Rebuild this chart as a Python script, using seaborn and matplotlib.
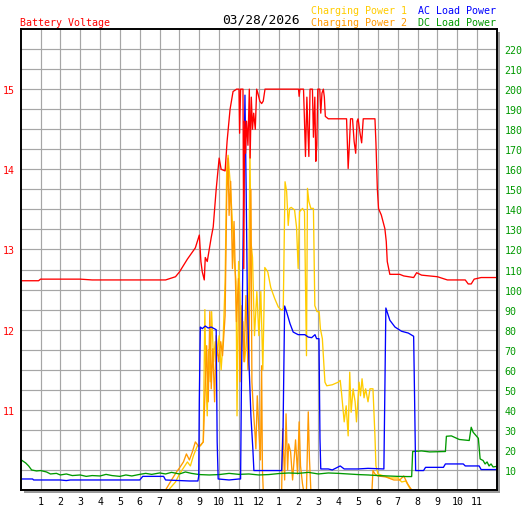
import matplotlib
matplotlib.use("Agg")
import matplotlib.pyplot as plt
from matplotlib.patches import Rectangle
import seaborn as sns
import pandas as pd

# ---------------- data (hours of day) ----------------
hour_labels = ["1", "2", "3", "4", "5", "6", "7", "8", "9", "10", "11", "12",
               "1", "2", "3", "4", "5", "6", "7", "8", "9", "10", "11"]
volt_ticks = [11, 12, 13, 14, 15]
power_ticks = [10, 20, 30, 40, 50, 60, 70, 80, 90, 100, 110, 120, 130, 140, 150,
               160, 170, 180, 190, 200, 210, 220]

volt_t = [0, 0.9, 1.0, 3.0, 3.6, 7.3, 7.55, 7.8, 8.0, 8.2, 8.4, 8.6, 8.8, 9.0, 9.08, 9.15,
          9.25, 9.3, 9.4, 9.5, 9.6, 9.7, 9.85, 10.0, 10.1, 10.3, 10.4, 10.55, 10.7, 10.88,
          11.0, 11.03, 11.08, 11.2, 11.24, 11.28, 11.33, 11.38, 11.45, 11.52, 11.56, 11.62,
          11.68, 11.74, 11.82, 11.89, 11.95, 12.05, 12.14, 12.22, 12.31, 14.0, 14.03, 14.07,
          14.25, 14.3, 14.35, 14.42, 14.47, 14.52, 14.58, 14.7, 14.75, 14.82, 14.87, 14.92,
          14.97, 15.07, 15.12, 15.18, 15.25, 15.3, 15.35, 15.5, 16.42, 16.47, 16.5, 16.56,
          16.62, 16.72, 16.8, 16.88, 16.95, 17.0, 17.1, 17.18, 17.26, 17.85, 17.9, 17.97,
          18.03, 18.17, 18.35, 18.42, 18.47, 18.6, 19.1, 19.3, 19.8, 19.95, 20.2, 21.0,
          21.5, 22.4, 22.55, 22.7, 22.85, 23.2, 24.0]
volt_v = [12.61, 12.61, 12.63, 12.63, 12.62, 12.62, 12.64, 12.66, 12.72, 12.80, 12.88,
          12.95, 13.02, 13.18, 12.85, 12.72, 12.62, 12.90, 12.85, 13.0, 13.15, 13.28, 13.75,
          14.14, 14.0, 13.98, 14.35, 14.75, 14.97, 15.0, 15.0, 14.45, 15.0, 15.0, 12.76,
          14.6, 14.2, 14.6, 14.3, 15.0, 14.14, 14.9, 14.5, 14.7, 14.5, 15.0, 14.95, 14.85,
          14.82, 14.85, 15.0, 15.0, 14.91, 15.0, 15.0, 14.6, 14.16, 14.9, 14.5, 14.16, 15.0,
          15.0, 14.4, 14.9, 14.1, 14.3, 15.0, 15.0, 14.7, 14.95, 15.0, 14.9, 14.66, 14.63,
          14.63, 14.25, 14.01, 14.3, 14.63, 14.63, 14.35, 14.2, 14.6, 14.63, 14.45, 14.33,
          14.63, 14.63, 14.33, 13.76, 13.51, 13.43, 13.26, 13.1, 12.85, 12.69, 12.69, 12.67,
          12.65, 12.71, 12.68, 12.66, 12.62, 12.62, 12.57, 12.57, 12.63, 12.65, 12.65]

ac_t = [0, 0.6, 0.65, 2.0, 2.3, 2.5, 6.0, 6.15, 7.2, 7.3, 8.5, 8.93, 8.97, 9.0, 9.05,
        9.15, 9.3, 9.45, 9.6, 9.75, 9.85, 9.9, 9.95, 10.5, 11.0, 11.08, 11.12, 11.2, 11.3,
        11.36, 11.42, 11.5, 11.6, 11.7, 11.75, 13.15, 13.22, 13.3, 13.4, 13.57, 13.73,
        13.98, 14.32, 14.49, 14.66, 14.83, 14.91, 15.03, 15.08, 15.12, 15.5, 15.7, 16.0,
        16.1, 16.3, 17.0, 17.5, 18.3, 18.35, 18.4, 18.6, 18.86, 19.19, 19.53, 19.8, 19.85,
        19.9, 20.3, 20.4, 21.3, 21.4, 22.3, 22.4, 23.1, 23.2, 24.0]
ac_p = [5.5, 5.5, 5.0, 5.0, 4.7, 5.0, 5.0, 6.8, 6.8, 5.0, 4.5, 4.5, 7, 44, 81.3, 80.5,
        81.8, 80.8, 81.3, 80.5, 80, 24, 5.5, 5.0, 5.5, 5.5, 50, 120, 197, 150, 97, 64, 37,
        20, 9.7, 9.7, 30.5, 91.8, 88.8, 83, 78.8, 77.5, 77.5, 76.3, 76, 77.5, 75.5, 75.5,
        25.5, 10.5, 10.5, 10.0, 11.5, 12.0, 10.5, 10.5, 10.8, 10.5, 50, 90.8, 84.7, 81.3,
        79.2, 78.3, 76.7, 44, 9.7, 9.7, 11.3, 11.3, 13, 13, 12, 12, 10.2, 10.2]

dc_t = [0, 0.1, 0.25, 0.4, 0.55, 0.8, 1.0, 1.3, 1.5, 1.8, 2.0, 2.3, 2.6, 3.0, 3.3, 3.6,
        4.0, 4.3, 4.6, 5.0, 5.3, 5.6, 6.0, 6.3, 6.6, 7.0, 7.3, 7.6, 8.0, 8.3, 8.6, 9.0,
        9.5, 10.0, 10.5, 11.0, 11.5, 12.0, 12.5, 13.0, 13.5, 14.0, 14.5, 15.0, 15.5, 16.0,
        16.5, 17.0, 17.5, 18.0, 18.5, 19.0, 19.5, 19.7, 19.75, 20.2, 20.6, 21.4, 21.45,
        21.7, 22.1, 22.6, 22.7, 22.8, 23.06, 23.15, 23.3, 23.4, 23.5, 23.6, 23.7, 23.8, 24.0]
dc_p = [15.2, 14.5, 13.5, 12.0, 10.0, 9.5, 9.7, 9.0, 8.0, 8.3, 7.5, 8.0, 7.2, 7.5, 6.8,
        7.2, 7.0, 7.8, 7.2, 6.8, 7.5, 7.0, 7.8, 8.3, 7.8, 8.5, 8.0, 8.8, 8.0, 9.0, 8.3, 7.7,
        7.5, 7.7, 8.3, 7.8, 8.0, 7.5, 7.7, 8.2, 8.5, 8.3, 8.8, 8.0, 8.5, 8.3, 8.0, 7.7, 7.5,
        7.2, 7.0, 6.8, 6.7, 6.7, 19.2, 19.5, 19.0, 19.2, 26.8, 27, 25.2, 24.7, 31.3, 28.8,
        25.8, 15.5, 14.7, 13.0, 14.0, 12.0, 13.0, 11.5, 11.8]

cp1_t = [0, 7.45, 7.8, 8.0, 8.2, 8.4, 8.55, 8.7, 8.9, 9.05, 9.2, 9.28, 9.33, 9.4, 9.47,
         9.55, 9.62, 9.72, 9.8, 9.9, 10.0, 10.1, 10.2, 10.3, 10.38, 10.45, 10.55, 10.65,
         10.75, 10.85, 10.9, 10.98, 11.05, 11.12, 11.2, 11.28, 11.4, 11.48, 11.55, 11.6,
         11.68, 11.78, 11.9, 12.0, 12.1, 12.2, 12.3, 12.45, 12.6, 12.8, 12.98, 13.15, 13.23,
         13.32, 13.4, 13.48, 13.55, 13.63, 13.8, 13.9, 13.98, 14.05, 14.2, 14.3, 14.4, 14.45,
         14.52, 14.62, 14.75, 14.82, 14.93, 15.04, 15.1, 15.2, 15.28, 15.33, 15.42, 15.7,
         16.0, 16.1, 16.17, 16.3, 16.4, 16.5, 16.58, 16.65, 16.75, 16.85, 16.92, 17.05,
         17.12, 17.2, 17.3, 17.38, 17.5, 17.6, 17.75, 17.85, 17.9, 18.0, 18.3, 18.6, 19.0,
         19.2, 19.4, 19.6, 19.7, 24.0]
cp1_p = [0, 0, 4, 8, 11, 14, 12, 17, 22, 22, 24, 90, 55, 37, 70, 54, 89, 64, 74, 67, 77,
         60, 75, 104, 160, 167, 154, 137, 116, 104, 37, 114, 97, 70, 84, 64, 77, 87, 170,
         124, 116, 77, 99, 77, 99, 60, 111, 108.8, 101, 95.5, 91.3, 89.7, 90.5, 153.8, 149,
         132, 140.5, 141, 139.7, 131, 110.5, 138.8, 140.5, 139, 67, 150.5, 144, 140.5,
         140.5, 92, 89, 89, 80.5, 75.5, 62, 53.8, 52, 52.5, 53.8, 54.7, 48, 34, 42, 27,
         58.8, 38.8, 50.5, 44, 34, 53.8, 47, 55.5, 46, 50.5, 44, 50.5, 50.5, 27, 12, 8, 7,
         6, 6, 4, 4.5, 1, 0, 0]

cp2_t = [0, 7.3, 7.6, 7.85, 8.0, 8.2, 8.35, 8.5, 8.65, 8.8, 8.95, 9.03, 9.2, 9.37, 9.45,
         9.53, 9.6, 9.68, 9.77, 9.85, 9.97, 10.08, 10.17, 10.3, 10.38, 10.45, 10.5, 10.58,
         10.67, 10.75, 10.87, 10.97, 11.05, 11.15, 11.25, 11.35, 11.45, 11.5, 11.6, 11.65,
         11.72, 11.8, 11.85, 11.92, 12.0, 12.08, 12.14, 12.18, 12.22, 13.15, 13.2, 13.3,
         13.37, 13.45, 13.5, 13.6, 13.7, 13.85, 13.95, 14.03, 14.1, 14.2, 14.25, 14.4, 14.49,
         14.55, 14.62, 17.7, 17.75, 17.85, 18.0, 18.4, 18.8, 19.1, 19.3, 19.5, 19.7, 24.0]
cp2_p = [0, 0, 5, 9, 11, 14, 18, 15, 19, 24, 22, 22, 24, 72, 44, 89, 50.5, 70.5, 44, 77,
         64, 74, 67, 87, 145.5, 165.5, 137, 154, 110.5, 134, 84, 105.5, 54, 92, 64, 97, 60,
         67, 150, 54, 40.5, 29, 20.5, 47, 30, 15, 62, 10.5, 0, 0, 30.5, 5, 38, 10, 23, 19, 5,
         25, 8, 34, 12, 3, 0, 0, 39, 15.5, 0, 0, 9.7, 8, 7, 6.5, 5, 5, 7, 3, 0, 0]

# ---------------- styling ----------------
sns.set_style("white")
plt.rcParams["font.family"] = ["DejaVu Sans Mono", "DejaVu Sans"]

C_VOLT = "#FF0000"
C_CP1 = "#FFCC00"
C_CP2 = "#FF9900"
C_AC = "#0000FF"
C_DC = "#009900"
GRID = "#A6A6A6"
LW = 0.95
FS = 7.2

W, H = 527, 510
fig = plt.figure(figsize=(W / 100, H / 100), dpi=100)
L, R, T, B = 20.7, 497.0, 30.0, 491.0
rect = [L / W, 1 - B / H, (R - L) / W, (B - T) / H]
ax = fig.add_axes(rect)

# drop shadow of the plot frame
shadow = Rectangle(((L + 3) / W, 1 - (B + 3) / H), (R - L) / W, (B - T) / H,
                   transform=fig.transFigure, facecolor="#9A9A9A", edgecolor="none",
                   zorder=-5)
fig.patches.append(shadow)
ax.set_facecolor("white")

# power series on the main axes (right-hand scale)
power_series = [(cp1_t, cp1_p, C_CP1), (cp2_t, cp2_p, C_CP2),
                (dc_t, dc_p, C_DC), (ac_t, ac_p, C_AC)]
for t, p, c in power_series:
    df = pd.DataFrame({"hour": t, "power": p})
    sns.lineplot(data=df, x="hour", y="power", ax=ax, color=c, lw=LW,
                 estimator=None, sort=False)

# battery voltage on a twin axis (left-hand scale), drawn on top
ax2 = ax.twinx()
dfv = pd.DataFrame({"hour": volt_t, "volt": volt_v})
sns.lineplot(data=dfv, x="hour", y="volt", ax=ax2, color=C_VOLT, lw=LW,
             estimator=None, sort=False)

ax.set_xlim(0, 24)
ax.set_ylim(0, 230)
ax.yaxis.tick_right()
ax.yaxis.set_label_position("right")
ax.set_yticks(power_ticks)
ax.set_yticklabels([str(v) for v in power_ticks])
ax.set_xticks(range(1, 24))
ax.set_xticklabels(hour_labels)
ax.grid(True, color=GRID, lw=0.85)
ax.set_axisbelow(True)
ax.tick_params(axis="y", which="both", left=False, labelleft=False, right=False,
               labelright=True, length=0, pad=5.5, labelsize=FS, labelcolor=C_DC)
ax.tick_params(axis="x", length=0, pad=4, labelsize=FS, labelcolor="black")
ax.set_xlabel("")
ax.set_ylabel("")

ax2.set_ylim(10.0, 15.75)
ax2.yaxis.tick_left()
ax2.yaxis.set_label_position("left")
ax2.set_yticks(volt_ticks)
ax2.set_yticklabels([str(v) for v in volt_ticks])
ax2.tick_params(axis="y", which="both", right=False, labelright=False, left=False,
                labelleft=True, length=0, pad=4, labelsize=FS, labelcolor=C_VOLT)
ax2.set_ylabel("")
ax2.set_xlabel("")
ax2.grid(False)

for a in (ax, ax2):
    for s in a.spines.values():
        s.set_color("black")
        s.set_linewidth(1.2)

# header texts
def ftxt(x, y, s, color, size=FS, ha="left"):
    fig.text(x / W, 1 - y / H, s, color=color, fontsize=size, ha=ha, va="center")

ftxt(20, 23, "Battery Voltage", C_VOLT)
ftxt(261, 20, "03/28/2026", "black", size=9.3, ha="center")
ftxt(311, 11, "Charging Power 1", C_CP1)
ftxt(311, 23, "Charging Power 2", C_CP2)
ftxt(418, 11, "AC Load Power", C_AC)
ftxt(418, 23, "DC Load Power", C_DC)

fig.savefig("out.png", dpi=100)
